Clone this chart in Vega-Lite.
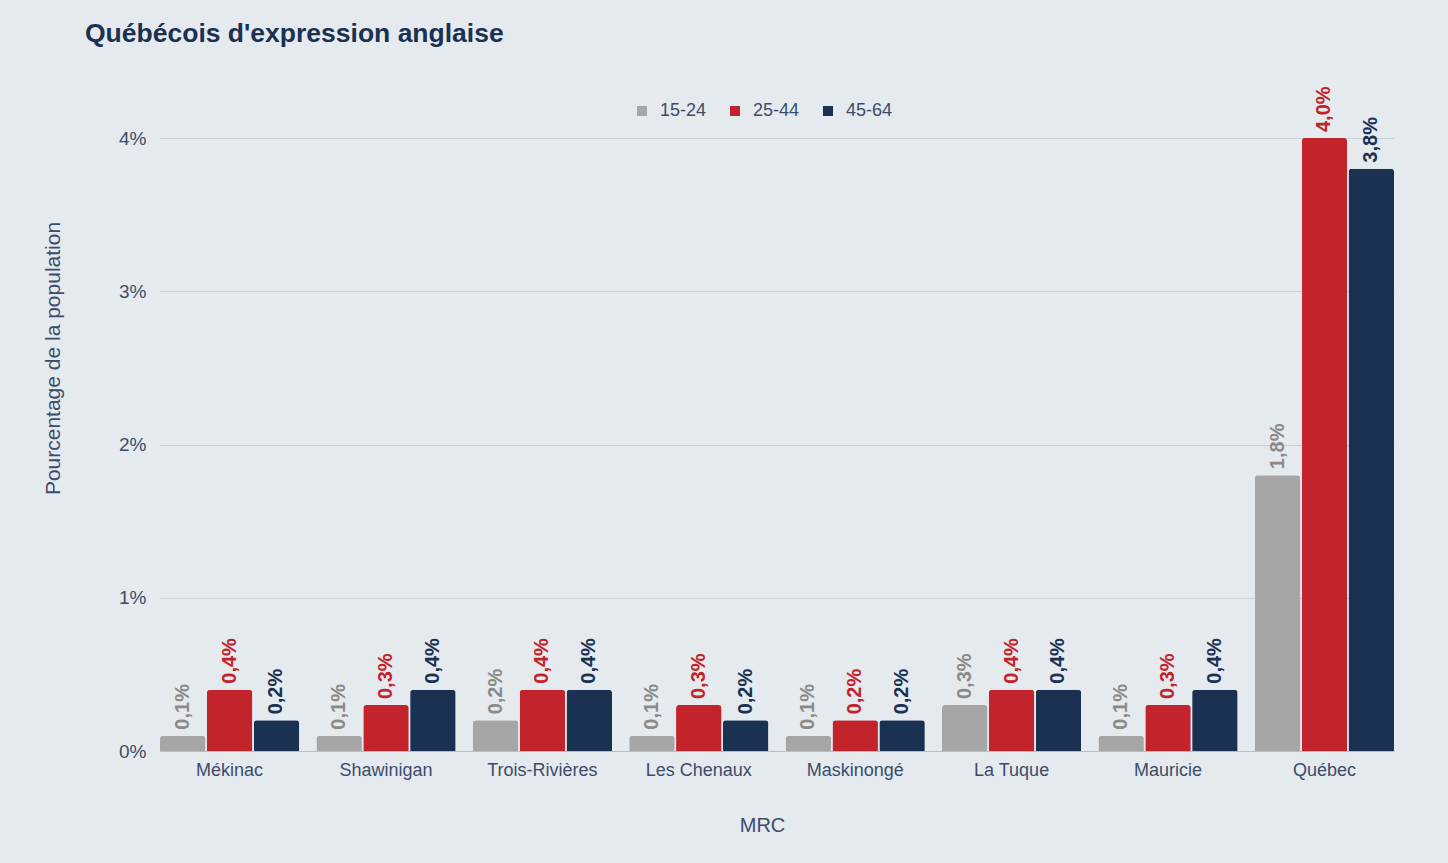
{
  "$schema": "https://vega.github.io/schema/vega-lite/v6.json",
  "autosize": {"type": "none"},
  "width": 1234,
  "height": 613,
  "padding": {"left": 160, "top": 138, "right": 54, "bottom": 112},
  "background": "#e5eaef",
  "title": {
    "text": "Québécois d'expression anglaise",
    "anchor": "start",
    "frame": "group",
    "dx": -75,
    "dy": -29,
    "offset": 10,
    "font": "Liberation Sans",
    "fontSize": 26.5,
    "fontWeight": "bold",
    "color": "#1b3152"
  },
  "config": {
    "locale": {"number": {"decimal": ",", "thousands": " ", "grouping": [3], "currency": ["", " $"]}},
    "view": {"stroke": null},
    "font": "Liberation Sans"
  },
  "data": {
    "values": [
      {"MRC": "Mékinac", "age": "15-24", "value": 0.001},
      {"MRC": "Mékinac", "age": "25-44", "value": 0.004},
      {"MRC": "Mékinac", "age": "45-64", "value": 0.002},
      {"MRC": "Shawinigan", "age": "15-24", "value": 0.001},
      {"MRC": "Shawinigan", "age": "25-44", "value": 0.003},
      {"MRC": "Shawinigan", "age": "45-64", "value": 0.004},
      {"MRC": "Trois-Rivières", "age": "15-24", "value": 0.002},
      {"MRC": "Trois-Rivières", "age": "25-44", "value": 0.004},
      {"MRC": "Trois-Rivières", "age": "45-64", "value": 0.004},
      {"MRC": "Les Chenaux", "age": "15-24", "value": 0.001},
      {"MRC": "Les Chenaux", "age": "25-44", "value": 0.003},
      {"MRC": "Les Chenaux", "age": "45-64", "value": 0.002},
      {"MRC": "Maskinongé", "age": "15-24", "value": 0.001},
      {"MRC": "Maskinongé", "age": "25-44", "value": 0.002},
      {"MRC": "Maskinongé", "age": "45-64", "value": 0.002},
      {"MRC": "La Tuque", "age": "15-24", "value": 0.003},
      {"MRC": "La Tuque", "age": "25-44", "value": 0.004},
      {"MRC": "La Tuque", "age": "45-64", "value": 0.004},
      {"MRC": "Mauricie", "age": "15-24", "value": 0.001},
      {"MRC": "Mauricie", "age": "25-44", "value": 0.003},
      {"MRC": "Mauricie", "age": "45-64", "value": 0.004},
      {"MRC": "Québec", "age": "15-24", "value": 0.018},
      {"MRC": "Québec", "age": "25-44", "value": 0.040},
      {"MRC": "Québec", "age": "45-64", "value": 0.038}
    ]
  },
  "encoding": {
    "x": {
      "field": "MRC",
      "type": "nominal",
      "sort": null,
      "scale": {"paddingInner": 0.11, "paddingOuter": 0},
      "axis": {
        "title": "MRC",
        "labelAngle": 0,
        "labelFontSize": 18,
        "labelColor": "#3b4d6b",
        "labelPadding": 10,
        "ticks": false,
        "domainColor": "#b3bfcd",
        "titleFontSize": 20,
        "titleFontWeight": "normal",
        "titleColor": "#3b4d6b",
        "titlePadding": 36,
        "titleX": 602
      }
    },
    "xOffset": {"field": "age", "type": "nominal", "scale": {"paddingInner": 0.03, "paddingOuter": 0}},
    "y": {
      "field": "value",
      "type": "quantitative",
      "scale": {"domain": [0, 0.04], "nice": false},
      "axis": {
        "title": "Pourcentage de la population",
        "format": ".0%",
        "values": [0, 0.01, 0.02, 0.03, 0.04],
        "domain": false,
        "ticks": false,
        "labelFontSize": 19,
        "labelColor": "#3b4d6b",
        "labelPadding": 14,
        "gridColor": "#c9d0d9",
        "titleFontSize": 21,
        "titleFontWeight": "normal",
        "titleColor": "#3b4d6b",
        "titleX": -107,
        "titleY": 220,
        "titleAlign": "center",
        "titleBaseline": "middle",
        "titleAngle": 270
      }
    }
  },
  "layer": [
    {
      "mark": {"type": "bar", "cornerRadiusTopLeft": 3, "cornerRadiusTopRight": 3},
      "encoding": {
        "color": {
          "field": "age",
          "type": "nominal",
          "scale": {"domain": ["15-24", "25-44", "45-64"], "range": ["#a6a6a6", "#c3232a", "#1b3152"]},
          "legend": {
            "title": null,
            "orient": "none",
            "direction": "horizontal",
            "legendX": 473,
            "legendY": -36,
            "symbolType": "square",
            "symbolSize": 100,
            "symbolStrokeWidth": 0,
            "labelFontSize": 18,
            "labelColor": "#3b4d6b",
            "labelOffset": 9,
            "columnPadding": 19
          }
        }
      }
    },
    {
      "mark": {"type": "text", "angle": 270, "align": "left", "baseline": "middle", "dx": 6, "fontSize": 20, "fontWeight": "bold"},
      "encoding": {
        "text": {"field": "value", "type": "quantitative", "format": ".1%"},
        "color": {
          "field": "age",
          "type": "nominal",
          "scale": {"domain": ["15-24", "25-44", "45-64"], "range": ["#8a8a8a", "#c3232a", "#1b3152"]},
          "legend": null
        }
      }
    }
  ],
  "resolve": {"scale": {"color": "independent"}}
}
